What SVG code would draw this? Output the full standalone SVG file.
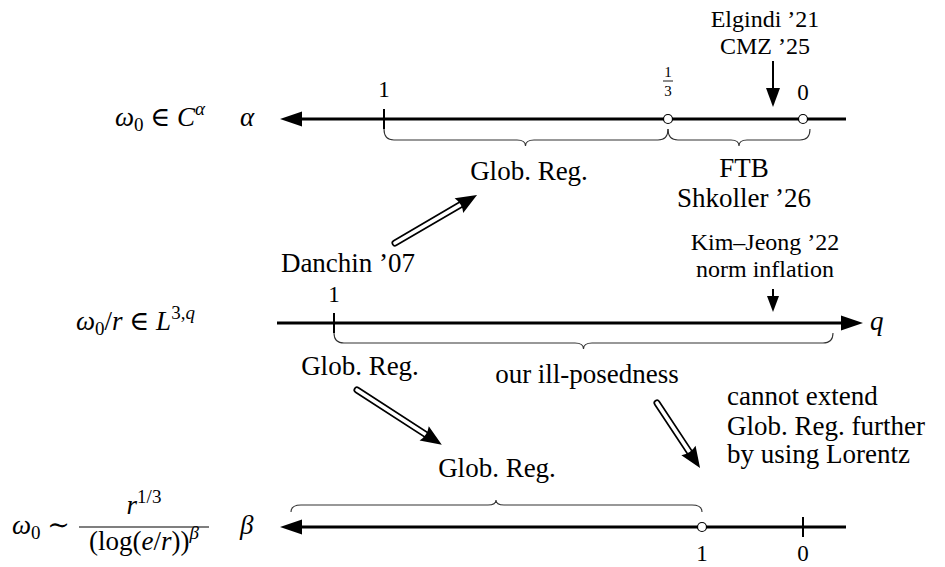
<svg xmlns="http://www.w3.org/2000/svg" width="945" height="567" viewBox="0 0 945 567" font-family="'Liberation Serif', 'Times New Roman', Tinos, 'DejaVu Serif', 'Noto Serif', FreeSerif, serif">
<style>
text{font-family:'Liberation Serif','Times New Roman',Tinos,'DejaVu Serif','Noto Serif',FreeSerif,serif;fill:#000}
.n{font-size:27px}
.s{font-size:24px}
.t{font-size:23px}
.c{text-anchor:middle}
.it{font-style:italic}
.sup{font-size:19px}
.axis{stroke:#000;stroke-width:3;fill:none}
.tick{stroke:#000;stroke-width:2}
.brace{stroke:#333;stroke-width:1.1;fill:none}
.dot{fill:#fff;stroke:#000;stroke-width:1.2}
.dbo{stroke:#000;stroke-width:7;stroke-linecap:round}
.dbi{stroke:#fff;stroke-width:3.6;stroke-linecap:round}
</style>
<defs>
<path id="head" d="M0,0 L-21,-8.5 Q-17,0 -21,8.5 Z" fill="#000"/>
</defs>

<!-- top axis: alpha -->
<g id="axis-alpha">
<line class="axis" x1="298" y1="119" x2="846" y2="119"/>
<path d="M280,119 L302,111.5 L302,126.5 Z" fill="#000"/>
<line class="tick" x1="384" y1="109" x2="384" y2="129"/>
<circle class="dot" cx="668" cy="119" r="4.5"/>
<circle class="dot" cx="803" cy="119" r="4.5"/>
<text class="t c" x="384" y="97">1</text>
<text class="c" x="668" y="77" font-size="15">1</text>
<line x1="663" y1="81" x2="673" y2="81" stroke="#000" stroke-width="0.9"/>
<text class="c" x="668" y="96" font-size="15">3</text>
<text class="t c" x="803" y="100">0</text>
</g>
<g id="label-alpha">
<text class="n" x="115" y="126"><tspan class="it">ω</tspan><tspan class="sup" dy="5">0</tspan><tspan dy="-5"> ∈ </tspan><tspan class="it">C</tspan><tspan class="sup it" dy="-11">α</tspan></text>
<text class="n it" x="240" y="126">α</text>
</g>
<g id="elgindi">
<text class="s c" x="765" y="27">Elgindi ’21</text>
<text class="s c" x="765" y="54">CMZ ’25</text>
</g>
<g id="brace-top">
<path class="brace" d="M384,129 Q384,140 394,140 L517,140 Q525.5,140 525.5,146 Q525.5,140 534,140 L658,140 Q668,140 668,129"/>
<path class="brace" d="M668,129 Q668,140 678,140 L731,140 Q739,140 739,146 Q739,140 747,140 L800,140 Q810,140 810,129"/>
</g>
<g id="globreg-top"><text class="n c" x="529" y="180">Glob. Reg.</text></g>
<g id="ftb">
<text class="n c" x="744" y="177">FTB</text>
<text class="n c" x="744" y="207">Shkoller ’26</text>
</g>

<!-- middle axis: q -->
<g id="axis-q">
<line class="axis" x1="277" y1="323" x2="845" y2="323"/>
<path d="M863,323 L841,315.5 L841,330.5 Z" fill="#000"/>
<line class="tick" x1="334" y1="313" x2="334" y2="333"/>
<text class="t c" x="334" y="302">1</text>
<text class="n it" x="870" y="330">q</text>
</g>
<g id="label-q">
<text class="n" x="76" y="330"><tspan class="it">ω</tspan><tspan class="sup" dy="5">0</tspan><tspan dy="-5">/</tspan><tspan class="it">r</tspan><tspan> ∈ </tspan><tspan class="it">L</tspan><tspan class="sup" dy="-11">3,</tspan><tspan class="sup it">q</tspan></text>
</g>
<g id="danchin"><text class="n c" x="348" y="272">Danchin ’07</text></g>
<g id="kimjeong">
<text class="s c" x="765" y="250">Kim–Jeong ’22</text>
<text class="s c" x="765" y="277">norm inflation</text>
</g>
<g id="brace-mid">
<path class="brace" d="M334,333 Q334,343 344,343 L575,343 Q583.5,343 583.5,349 Q583.5,343 592,343 L823,343 Q833,343 833,333"/>
</g>
<g id="globreg-mid"><text class="n c" x="360" y="375">Glob. Reg.</text></g>
<g id="illposed"><text class="n c" x="587" y="383">our ill-posedness</text></g>
<g id="cannot">
<text class="n" x="727" y="405">cannot extend</text>
<text class="n" x="727" y="435">Glob. Reg. further</text>
<text class="n" x="727" y="463">by using Lorentz</text>
</g>

<!-- bottom axis: beta -->
<g id="globreg-bot"><text class="n c" x="497" y="477">Glob. Reg.</text></g>
<g id="brace-bot">
<path class="brace" d="M291,512 Q291,505 301,505 L488,505 Q496,505 496,500 Q496,505 504,505 L692,505 Q702,505 702,512"/>
</g>
<g id="axis-beta">
<line class="axis" x1="298" y1="527" x2="846" y2="527"/>
<path d="M280,527 L302,519.5 L302,534.5 Z" fill="#000"/>
<circle class="dot" cx="702" cy="527" r="4.5"/>
<line class="tick" x1="803" y1="517" x2="803" y2="537"/>
<text class="t c" x="702" y="561">1</text>
<text class="t c" x="803" y="561">0</text>
</g>
<g id="label-beta">
<text class="n" x="12" y="534"><tspan class="it">ω</tspan><tspan class="sup" dy="5">0</tspan><tspan dy="-5"> ∼</tspan></text>
<text class="n c" x="144" y="514"><tspan class="it">r</tspan><tspan class="sup" dy="-11">1/3</tspan></text>
<line x1="79" y1="527" x2="209" y2="527" stroke="#000" stroke-width="1.1"/>
<text class="n c" x="144" y="550">(log(<tspan class="it">e</tspan>/<tspan class="it">r</tspan>))<tspan class="sup it" dy="-11">β</tspan></text>
<text class="n it" x="240" y="534">β</text>
</g>

<!-- connectors -->
<g id="connectors">
<line x1="773" y1="61" x2="773" y2="90" stroke="#000" stroke-width="2"/>
<path d="M773,107 L766,88 L780,88 Z" fill="#000"/>
<line x1="773" y1="289" x2="773" y2="298" stroke="#000" stroke-width="2"/>
<path d="M773,312 L767,296 L779,296 Z" fill="#000"/>
<g transform="translate(395,243) rotate(-30.3)">
<line class="dbo" x1="0" y1="0" x2="78" y2="0"/>
<line class="dbi" x1="0" y1="0" x2="80" y2="0"/>
<use href="#head" x="95" y="0"/>
</g>
<g transform="translate(357,390) rotate(32.9)">
<line class="dbo" x1="0" y1="0" x2="84" y2="0"/>
<line class="dbi" x1="0" y1="0" x2="86" y2="0"/>
<use href="#head" x="101" y="0"/>
</g>
<g transform="translate(657,403) rotate(56.5)">
<line class="dbo" x1="0" y1="0" x2="61" y2="0"/>
<line class="dbi" x1="0" y1="0" x2="63" y2="0"/>
<use href="#head" x="78" y="0"/>
</g>
</g>
</svg>
